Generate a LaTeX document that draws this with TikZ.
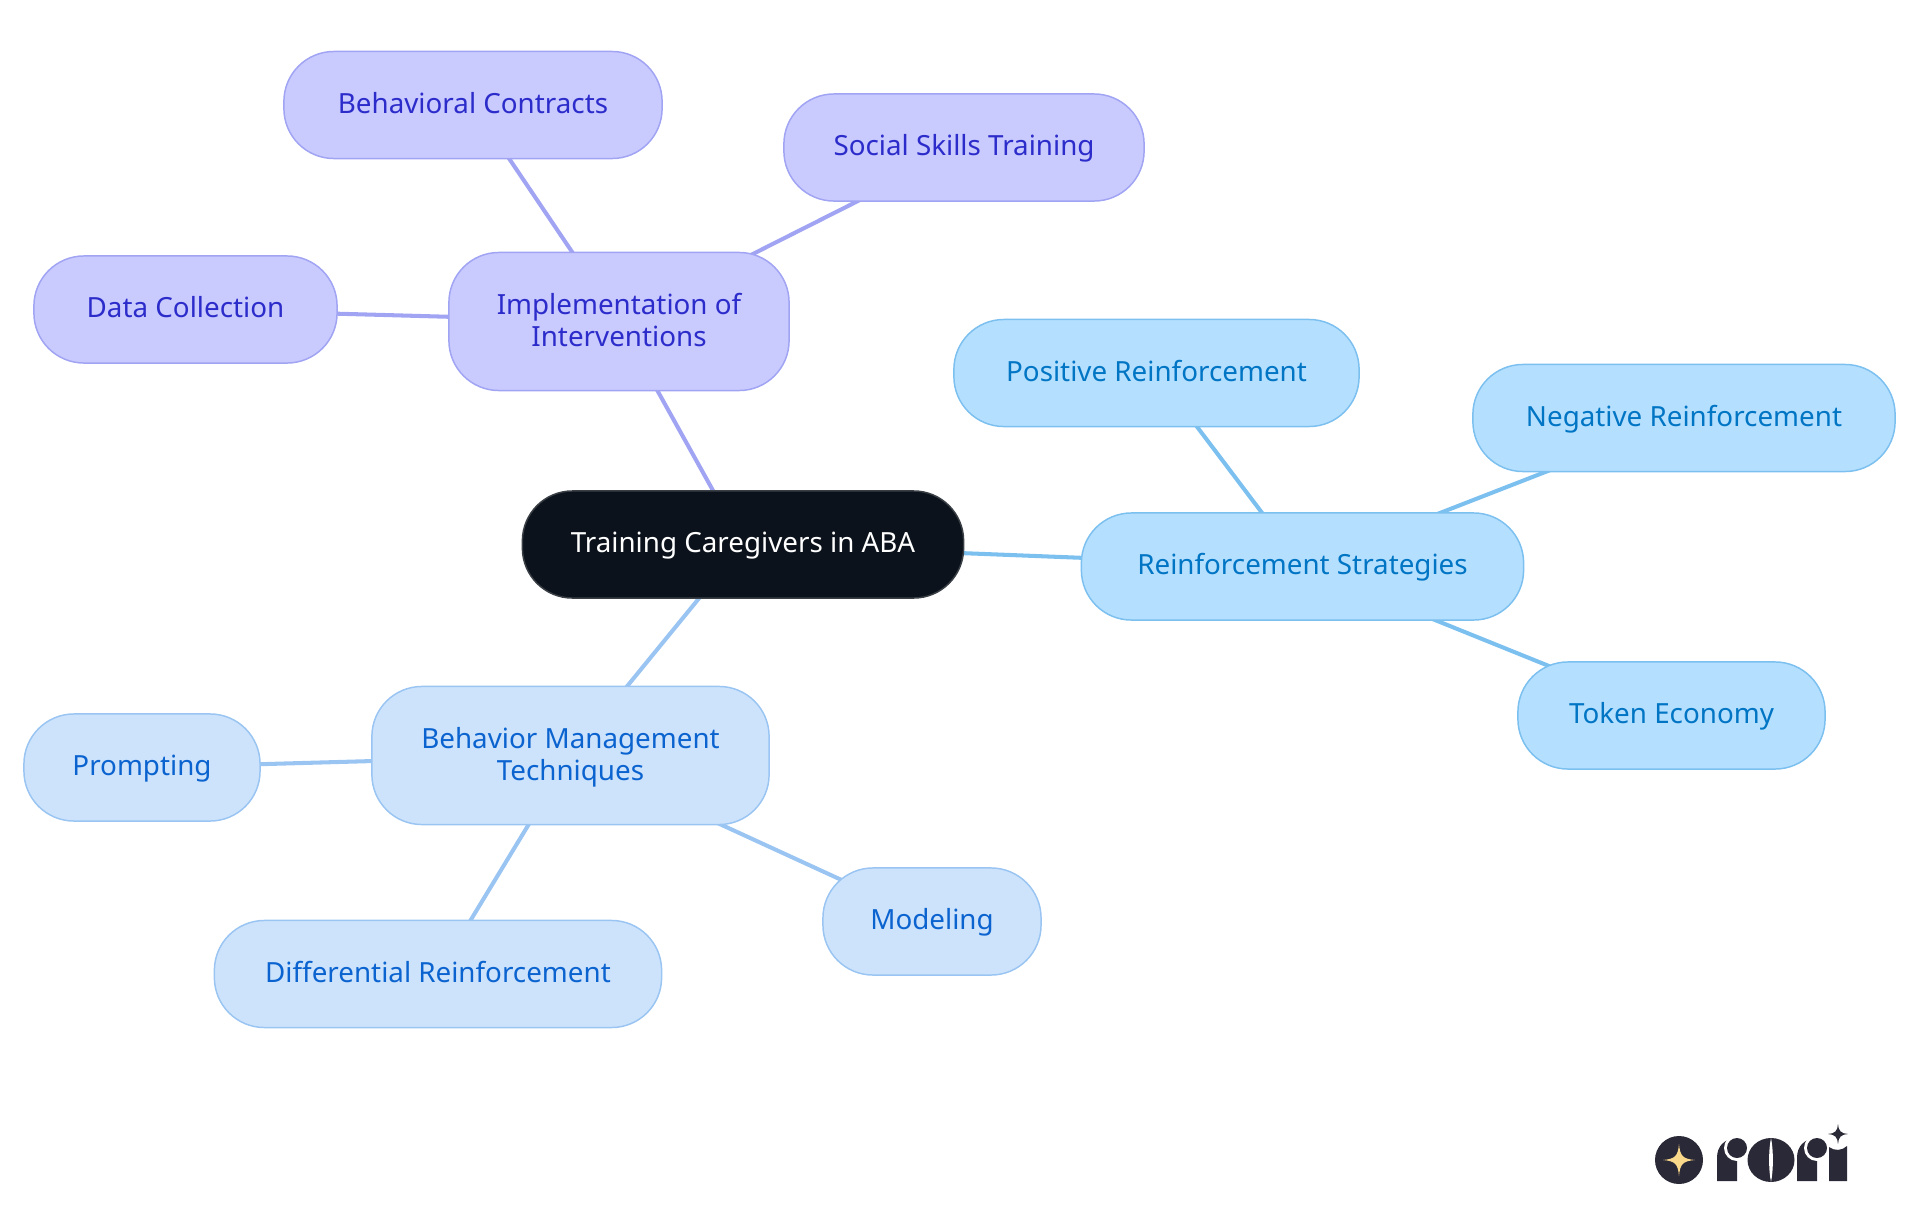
\documentclass[tikz,border=0pt]{standalone}
\usepackage{fontspec}
\setmainfont{Noto Sans}
\usepackage{tikz}
\usetikzlibrary{backgrounds}

\definecolor{rootfill}{HTML}{0B121B}
\definecolor{rootline}{HTML}{3A3F45}
\definecolor{purplefill}{HTML}{C9CAFE}
\definecolor{purpleline}{HTML}{A0A4F3}
\definecolor{purpletext}{HTML}{2C2CCB}
\definecolor{skyfill}{HTML}{B5DFFF}
\definecolor{skyline}{HTML}{7CC0F0}
\definecolor{skytext}{HTML}{0075C4}
\definecolor{palefill}{HTML}{CDE3FC}
\definecolor{paleline}{HTML}{9AC5F2}
\definecolor{paletext}{HTML}{0B63CF}
\definecolor{logodark}{HTML}{2A2937}
\definecolor{logogold}{HTML}{FBD98A}

\newcommand{\firstline}{\rule{0pt}{6.75pt}}
\newcommand{\lastline}{\vphantom{q}}

\tikzset{
    box/.style={rounded corners=0.5cm,line width=0.42pt,inner sep=0pt,align=center,
        font=\fontsize{7.9}{9.1}\selectfont,minimum height=1.07cm,
        text height=2.5mm,text depth=0.9mm},
    rootbox/.style={box,fill=rootfill,draw=rootline,text=white},
    purplebox/.style={box,fill=purplefill,draw=purpleline,text=purpletext},
    skybox/.style={box,fill=skyfill,draw=skyline,text=skytext},
    palebox/.style={box,fill=palefill,draw=paleline,text=paletext},
    tallbox/.style={minimum height=1.38cm,text height={},text depth={}},
    link/.style={line width=1.15pt}
}

\begin{document}
\begin{tikzpicture}[x=0.01cm,y=-0.01cm]
    \useasboundingbox (0,0) rectangle (1920,1215);

    \node[rootbox,minimum width=4.41cm] (root) at (743,544.5) {Training Caregivers in ABA};

    \node[purplebox,tallbox,minimum width=3.40cm] (impl) at (619,321.5) {\firstline Implementation of\\Interventions\lastline};
    \node[purplebox,minimum width=3.78cm] (contracts) at (473,105) {Behavioral Contracts};
    \node[purplebox,minimum width=3.60cm] (social) at (964,147.5) {Social Skills Training};
    \node[purplebox,minimum width=3.03cm] (data) at (185.5,309.5) {Data Collection};

    \node[skybox,minimum width=4.42cm] (reinf) at (1302.5,566.5) {Reinforcement Strategies};
    \node[skybox,minimum width=4.05cm] (positive) at (1156.5,373) {Positive Reinforcement};
    \node[skybox,minimum width=4.22cm] (negative) at (1684,418) {Negative Reinforcement};
    \node[skybox,minimum width=3.07cm] (token) at (1671.5,715.5) {Token Economy};

    \node[palebox,tallbox,minimum width=3.97cm] (behavior) at (570.5,755.5) {\firstline Behavior Management\\Techniques\lastline};
    \node[palebox,minimum width=2.36cm] (prompting) at (142,767.5) {Prompting};
    \node[palebox,minimum width=2.18cm] (modeling) at (932,921.5) {Modeling};
    \node[palebox,minimum width=4.47cm] (differential) at (438,974) {Differential Reinforcement};

    \begin{scope}[on background layer]
        \draw[link,purpleline] (root.center) -- (impl.center);
        \draw[link,purpleline] (impl.center) -- (contracts.center);
        \draw[link,purpleline] (impl.center) -- (social.center);
        \draw[link,purpleline] (impl.center) -- (data.center);
        \draw[link,skyline] (root.center) -- (reinf.center);
        \draw[link,skyline] (reinf.center) -- (positive.center);
        \draw[link,skyline] (reinf.center) -- (negative.center);
        \draw[link,skyline] (reinf.center) -- (token.center);
        \draw[link,paleline] (root.center) -- (behavior.center);
        \draw[link,paleline] (behavior.center) -- (prompting.center);
        \draw[link,paleline] (behavior.center) -- (modeling.center);
        \draw[link,paleline] (behavior.center) -- (differential.center);
    \end{scope}

    % logo
    \fill[logodark] (1679,1160) circle(24);
    \fill[logogold] (1679,1144) .. controls (1680,1156) and (1683,1159) .. (1695,1160)
        .. controls (1683,1161) and (1680,1164) .. (1679,1176)
        .. controls (1678,1164) and (1675,1161) .. (1663,1160)
        .. controls (1675,1159) and (1678,1156) .. (1679,1144) -- cycle;

    \fill[logodark] (1717,1181) -- (1717,1158) .. controls (1717,1146) and (1724,1139) .. (1737,1138) -- (1737,1181) -- cycle;
    \fill[white] (1737,1148) circle(13);
    \fill[logodark] (1737,1148) circle(10);
    \fill[logodark] (1737,1181) rectangle (1725,1165);

    \fill[logodark] (1771,1160) ellipse (23.5 and 22);
    \fill[white] (1771,1138) .. controls (1768.5,1150) and (1768.5,1170) .. (1771,1182)
        .. controls (1773.5,1170) and (1773.5,1150) .. (1771,1138) -- cycle;

    \fill[logodark] (1797,1181) -- (1797,1158) .. controls (1797,1146) and (1804,1139) .. (1817,1138) -- (1817,1181) -- cycle;
    \fill[white] (1817,1148) circle(13);
    \fill[logodark] (1817,1148) circle(10);
    \fill[logodark] (1817,1181) rectangle (1805,1165);

    \fill[logodark] (1829,1181) -- (1829,1147) .. controls (1834,1151) and (1842,1151) .. (1847,1146) -- (1847,1181) -- cycle;
    \fill[logodark] (1838,1124) .. controls (1838.5,1131) and (1841,1133.5) .. (1848,1134)
        .. controls (1841,1134.5) and (1838.5,1137) .. (1838,1144)
        .. controls (1837.5,1137) and (1835,1134.5) .. (1828,1134)
        .. controls (1835,1133.5) and (1837.5,1131) .. (1838,1124) -- cycle;
\end{tikzpicture}
\end{document}
